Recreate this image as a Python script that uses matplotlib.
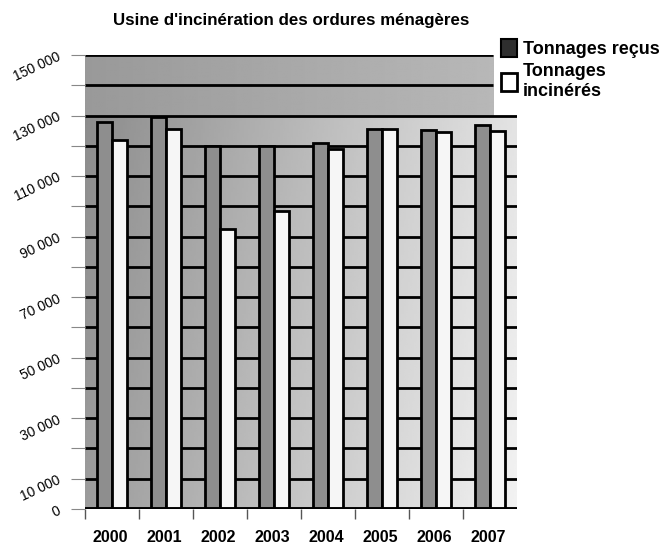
import numpy as np
import matplotlib
matplotlib.use('Agg')
from matplotlib import pyplot as plt
from matplotlib.patches import Patch

plt.rcParams['font.family'] = ['Liberation Sans', 'DejaVu Sans']

years = ['2000', '2001', '2002', '2003', '2004', '2005', '2006', '2007']
recus = [128000, 129500, 120000, 120000, 121000, 125500, 125300, 127000]
incineres = [122000, 125600, 92500, 98500, 119000, 125500, 124400, 124800]

fig = plt.figure(figsize=(6.62, 5.44), dpi=100)
ax = fig.add_axes([85 / 662, 35 / 544, 432 / 662, 454 / 544])

n = len(years)
x = np.arange(n)

# grey gradient background (3D-ish wall of the original)
gx, gy = np.meshgrid(np.linspace(0, 1, 200), np.linspace(0, 1, 100))
low = 0.55 + 0.34 * gx + 0.06 * gy
ax.imshow(low, cmap='gray', vmin=0, vmax=1, extent=(0, n, 0, 130000),
          aspect='auto', origin='upper', zorder=0)
top_w = 7.556
high = 0.60 + 0.12 * gx
ax.imshow(high, cmap='gray', vmin=0, vmax=1, extent=(0, top_w, 130000, 150000),
          aspect='auto', origin='upper', zorder=0)

# grid lines
for y in range(10000, 140000, 10000):
    ax.hlines(y, 0, n, color='black', lw=2, zorder=1)
for y in (140000, 150000):
    ax.hlines(y, 0, top_w, color='black', lw=2, zorder=1)

ax.bar(x + 0.22, recus, width=0.28, align='edge', color='#8e8e8e',
       edgecolor='black', lw=2, zorder=2)
ax.bar(x + 0.50, incineres, width=0.28, align='edge', color='#f6f6f6',
       edgecolor='black', lw=2, zorder=2)
ax.axhline(0, color='black', lw=2.8, zorder=3)

ax.set_xlim(0, n)
ax.set_ylim(0, 150000)
for s in ax.spines.values():
    s.set_visible(False)

yt = list(range(0, 160000, 10000))
ax.set_yticks(yt)
ax.set_yticklabels(['0' if v == 0 else ('{:,}'.format(v).replace(',', ' ') if (v // 10000) % 2 == 1 else '')
                    for v in yt], rotation=25, fontsize=10)
ax.tick_params(axis='y', length=10, width=0.8, color='#888888', pad=6)

ax.set_xticks(x)
ax.set_xticklabels([])
ax.tick_params(axis='x', which='major', length=7, width=1, color='#555555')
ax.set_xticks(x + 0.47, minor=True)
ax.set_xticklabels(years, minor=True, fontsize=11.5, fontweight='bold')
ax.tick_params(axis='x', which='minor', length=0, pad=15)

fig.text(291 / 662, 1 - 20 / 544, "Usine d'incinération des ordures ménagères",
         ha='center', va='center', fontsize=12.2, fontweight='bold')

handles = [Patch(facecolor='#2e2e2e', edgecolor='black', lw=1.5),
           Patch(facecolor='white', edgecolor='black', lw=2)]
fig.legend(handles, ['Tonnages reçus', 'Tonnages\nincinérés'],
           loc='upper left', bbox_to_anchor=(494 / 662, 1 - 32 / 544),
           frameon=False, handlelength=0.9, handleheight=1.1,
           handletextpad=0.3, labelspacing=0.3, borderaxespad=0,
           prop={'size': 13, 'weight': 'bold'})

fig.savefig('out.png', dpi=100)
